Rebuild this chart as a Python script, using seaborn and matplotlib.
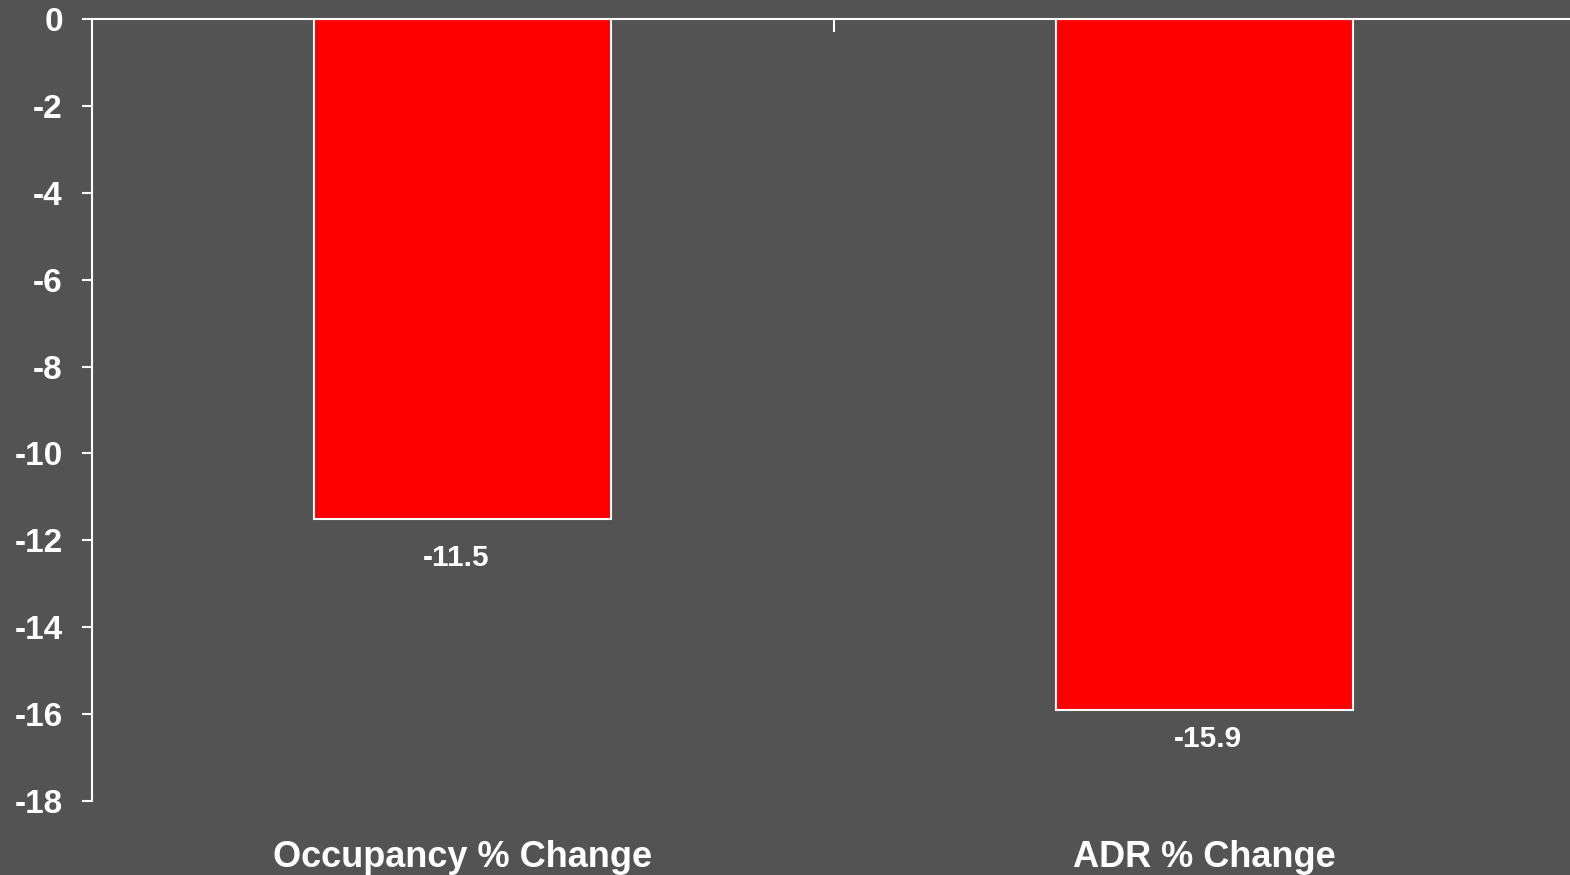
import seaborn as sns
import matplotlib.pyplot as plt
import pandas as pd

# values
categories = ["Occupancy % Change", "ADR % Change"]
pct_change = [-11.5, -15.9]
y_ticks = list(range(-18, 1, 2))

BG = "#535353"

sns.set_style("dark")
plt.rcParams['font.family'] = ['Liberation Sans', 'DejaVu Sans']

df = pd.DataFrame({"Metric": categories, "Change": pct_change})

fig, ax = plt.subplots(figsize=(15.7, 8.75), dpi=100)
fig.patch.set_facecolor(BG)
ax.set_facecolor(BG)
ax.set_position([92 / 1570, 1 - 801 / 875, 1483 / 1570, 782 / 875])

sns.barplot(data=df, x="Metric", y="Change", color="red", saturation=1,
            width=0.4, edgecolor="white", linewidth=1.5, ax=ax)

ax.set_ylim(-18, 0)
ax.set_xlim(-0.5, 1.5)
ax.set_yticks(y_ticks)
ax.set_yticklabels([str(t) for t in y_ticks])
ax.set_xlabel("")
ax.set_ylabel("")
ax.grid(False)

# value labels under the bars (the second one sits a bit closer in the original)
labels = ax.bar_label(ax.containers[0], fmt="%.1f", padding=18, color="white",
                      fontsize=21.5, fontweight="bold")
labels[0].xyann = (-5, -18)
labels[1].xyann = (3, -11)

for s in ["right", "bottom"]:
    ax.spines[s].set_visible(False)
for s in ["top", "left"]:
    ax.spines[s].set_visible(True)
    ax.spines[s].set_color("white")
    ax.spines[s].set_linewidth(1.5)

ax.tick_params(axis="y", colors="white", length=7, width=1.5, pad=14,
               labelsize=24, left=True)
for lbl in ax.get_yticklabels():
    lbl.set_fontweight("bold")

ax.tick_params(axis="x", which="major", length=0, pad=28, labelsize=26,
               labelcolor="white", bottom=True, top=False)
for lbl in ax.get_xticklabels():
    lbl.set_fontweight("bold")
ax.set_xticks([0.5], minor=True)
ax.tick_params(axis="x", which="minor", top=True, bottom=False,
               direction="in", length=9, width=1.5, color="white")

fig.savefig("out.png", dpi=100, facecolor=BG)
